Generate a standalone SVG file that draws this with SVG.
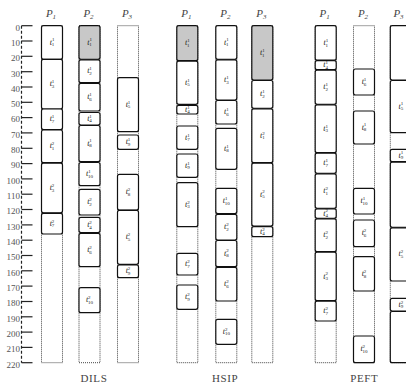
<svg xmlns="http://www.w3.org/2000/svg" width="406" height="387" viewBox="0 0 406 387">
<style>
.bg{fill:#fff}
.col{fill:none;stroke:#444;stroke-width:1;stroke-dasharray:1 1}
.tk{fill:#fff;stroke:#111;stroke-width:1.2}
.g{fill:#c8c8c8}
.tl{font-family:"Liberation Serif",serif;font-style:italic;font-size:8px;text-anchor:middle;fill:#222}
.s{font-size:5px;font-style:normal}
.hd{font-family:"Liberation Serif",serif;font-style:italic;font-size:11px;text-anchor:middle;fill:#444}
.hs{font-size:7px}
.ax{stroke:#222;stroke-width:1.2}
.axd{stroke:#222;stroke-width:1.2;stroke-dasharray:3 2}
.al{font-family:"Liberation Serif",serif;font-size:9px;text-anchor:end;fill:#555}
.bl{font-family:"Liberation Serif",serif;font-size:11px;text-anchor:middle;fill:#444;letter-spacing:0.6px}
</style>
<rect class="bg" x="0" y="0" width="406" height="387"/>
<g id="axis">
<line class="axd" x1="21.5" y1="25.7" x2="21.5" y2="362.7"/>
<g class="ax">
<line x1="21.5" y1="25.7" x2="32.5" y2="25.7"/><line x1="21.5" y1="41" x2="32.5" y2="41"/><line x1="21.5" y1="56.3" x2="32.5" y2="56.3"/><line x1="21.5" y1="71.7" x2="32.5" y2="71.7"/><line x1="21.5" y1="87" x2="32.5" y2="87"/><line x1="21.5" y1="102.3" x2="32.5" y2="102.3"/><line x1="21.5" y1="117.6" x2="32.5" y2="117.6"/><line x1="21.5" y1="132.9" x2="32.5" y2="132.9"/><line x1="21.5" y1="148.3" x2="32.5" y2="148.3"/><line x1="21.5" y1="163.6" x2="32.5" y2="163.6"/><line x1="21.5" y1="178.9" x2="32.5" y2="178.9"/><line x1="21.5" y1="194.2" x2="32.5" y2="194.2"/><line x1="21.5" y1="209.5" x2="32.5" y2="209.5"/><line x1="21.5" y1="224.9" x2="32.5" y2="224.9"/><line x1="21.5" y1="240.2" x2="32.5" y2="240.2"/><line x1="21.5" y1="255.5" x2="32.5" y2="255.5"/><line x1="21.5" y1="270.8" x2="32.5" y2="270.8"/><line x1="21.5" y1="286.1" x2="32.5" y2="286.1"/><line x1="21.5" y1="301.5" x2="32.5" y2="301.5"/><line x1="21.5" y1="316.8" x2="32.5" y2="316.8"/><line x1="21.5" y1="332.1" x2="32.5" y2="332.1"/><line x1="21.5" y1="347.4" x2="32.5" y2="347.4"/><line x1="21.5" y1="362.7" x2="32.5" y2="362.7"/>
</g>
<g class="al">
<text x="20" y="30.5">0</text><text x="20" y="45.8">10</text><text x="20" y="61.1">20</text><text x="20" y="76.5">30</text><text x="20" y="91.8">40</text><text x="20" y="107.1">50</text><text x="20" y="122.4">60</text><text x="20" y="137.7">70</text><text x="20" y="153.1">80</text><text x="20" y="168.4">90</text><text x="20" y="183.7">100</text><text x="20" y="199">110</text><text x="20" y="214.3">120</text><text x="20" y="229.7">130</text><text x="20" y="245">140</text><text x="20" y="260.3">150</text><text x="20" y="275.6">160</text><text x="20" y="290.9">170</text><text x="20" y="306.3">180</text><text x="20" y="321.6">190</text><text x="20" y="336.9">200</text><text x="20" y="352.2">210</text><text x="20" y="367.5">220</text>
</g>
</g>
<g id="headers">
<text class="hd" x="51" y="17">P<tspan class="hs" dy="2">1</tspan></text>
<text class="hd" x="88.5" y="17">P<tspan class="hs" dy="2">2</tspan></text>
<text class="hd" x="127" y="17">P<tspan class="hs" dy="2">3</tspan></text>
<text class="hd" x="186.3" y="17">P<tspan class="hs" dy="2">1</tspan></text>
<text class="hd" x="225.3" y="17">P<tspan class="hs" dy="2">2</tspan></text>
<text class="hd" x="261.3" y="17">P<tspan class="hs" dy="2">3</tspan></text>
<text class="hd" x="324.7" y="17">P<tspan class="hs" dy="2">1</tspan></text>
<text class="hd" x="363" y="17">P<tspan class="hs" dy="2">2</tspan></text>
<text class="hd" x="398.5" y="17">P<tspan class="hs" dy="2">3</tspan></text>
</g>
<g id="columns">
<rect class="col" x="41.5" y="25.7" width="21" height="337"/>
<rect class="col" x="79" y="25.7" width="21" height="337"/>
<rect class="col" x="117.5" y="25.7" width="21" height="337"/>
<rect class="col" x="176.8" y="25.7" width="21" height="337"/>
<rect class="col" x="215.8" y="25.7" width="21" height="337"/>
<rect class="col" x="251.8" y="25.7" width="21" height="337"/>
<rect class="col" x="315.2" y="25.7" width="21" height="337"/>
<rect class="col" x="353.5" y="25.7" width="21" height="337"/>
<rect class="col" x="390.3" y="25.7" width="21" height="337"/>
</g>
<g id="dils">
<g id="dils-p1-t1-1"><rect class="tk" x="41.5" y="25.7" width="21" height="33.6" rx="2"/><text class="tl" x="52" y="44.5">t<tspan class="s" dy="-3.2">1</tspan><tspan class="s" dx="-2.5" dy="4.8">1</tspan></text></g>
<g id="dils-p1-t3-1"><rect class="tk" x="41.5" y="59.3" width="21" height="49.7" rx="2"/><text class="tl" x="52" y="86.2">t<tspan class="s" dy="-3.2">1</tspan><tspan class="s" dx="-2.5" dy="4.8">3</tspan></text></g>
<g id="dils-p1-t7-1"><rect class="tk" x="41.5" y="109" width="21" height="20.5" rx="2"/><text class="tl" x="52" y="121.3">t<tspan class="s" dy="-3.2">1</tspan><tspan class="s" dx="-2.5" dy="4.8">7</tspan></text></g>
<g id="dils-p1-t1-2"><rect class="tk" x="41.5" y="130" width="21" height="32.7" rx="2"/><text class="tl" x="52" y="148.4">t<tspan class="s" dy="-3.2">2</tspan><tspan class="s" dx="-2.5" dy="4.8">1</tspan></text></g>
<g id="dils-p1-t3-2"><rect class="tk" x="41.5" y="163.2" width="21" height="49.6" rx="2"/><text class="tl" x="52" y="190">t<tspan class="s" dy="-3.2">2</tspan><tspan class="s" dx="-2.5" dy="4.8">3</tspan></text></g>
<g id="dils-p1-t7-2"><rect class="tk" x="41.5" y="213.3" width="21" height="20.7" rx="2"/><text class="tl" x="52" y="225.7">t<tspan class="s" dy="-3.2">2</tspan><tspan class="s" dx="-2.5" dy="4.8">7</tspan></text></g>

<g id="dils-p2-t1-1d"><rect class="tk g" x="79" y="25.7" width="21" height="33.6" rx="2"/><text class="tl" x="89.5" y="44.5">t<tspan class="s" dy="-3.2">1</tspan><tspan class="s" dx="-2.5" dy="4.8">1</tspan></text></g>
<g id="dils-p2-t2-1"><rect class="tk" x="79" y="59.8" width="21" height="22.9" rx="2"/><text class="tl" x="89.5" y="73.3">t<tspan class="s" dy="-3.2">1</tspan><tspan class="s" dx="-2.5" dy="4.8">2</tspan></text></g>
<g id="dils-p2-t6-1"><rect class="tk" x="79" y="83.3" width="21" height="27.7" rx="2"/><text class="tl" x="89.5" y="99.2">t<tspan class="s" dy="-3.2">1</tspan><tspan class="s" dx="-2.5" dy="4.8">6</tspan></text></g>
<g id="dils-p2-t4-1"><rect class="tk" x="79" y="112.5" width="21" height="12.5" rx="2"/><text class="tl" x="89.5" y="120.8">t<tspan class="s" dy="-3.2">1</tspan><tspan class="s" dx="-2.5" dy="4.8">4</tspan></text></g>
<g id="dils-p2-t8-1"><rect class="tk" x="79" y="125.5" width="21" height="36.2" rx="2"/><text class="tl" x="89.5" y="145.6">t<tspan class="s" dy="-3.2">1</tspan><tspan class="s" dx="-2.5" dy="4.8">8</tspan></text></g>
<g id="dils-p2-t10-1"><rect class="tk" x="79" y="162.5" width="21" height="23.2" rx="2"/><text class="tl" x="89.5" y="176.1">t<tspan class="s" dy="-3.2">1</tspan><tspan class="s" dx="-2.5" dy="4.8">10</tspan></text></g>
<g id="dils-p2-t2-2"><rect class="tk" x="79" y="189.3" width="21" height="25.7" rx="2"/><text class="tl" x="89.5" y="204.2">t<tspan class="s" dy="-3.2">2</tspan><tspan class="s" dx="-2.5" dy="4.8">2</tspan></text></g>
<g id="dils-p2-t4-2"><rect class="tk" x="79" y="217.3" width="21" height="15.2" rx="2"/><text class="tl" x="89.5" y="226.9">t<tspan class="s" dy="-3.2">2</tspan><tspan class="s" dx="-2.5" dy="4.8">4</tspan></text></g>
<g id="dils-p2-t6-2"><rect class="tk" x="79" y="233.3" width="21" height="33.4" rx="2"/><text class="tl" x="89.5" y="252">t<tspan class="s" dy="-3.2">2</tspan><tspan class="s" dx="-2.5" dy="4.8">6</tspan></text></g>
<g id="dils-p2-t10-2"><rect class="tk" x="79" y="287.7" width="21" height="25" rx="2"/><text class="tl" x="89.5" y="302.2">t<tspan class="s" dy="-3.2">2</tspan><tspan class="s" dx="-2.5" dy="4.8">10</tspan></text></g>

<g id="dils-p3-t5-1"><rect class="tk" x="117.5" y="77.7" width="21" height="54" rx="2"/><text class="tl" x="128" y="106.7">t<tspan class="s" dy="-3.2">1</tspan><tspan class="s" dx="-2.5" dy="4.8">5</tspan></text></g>
<g id="dils-p3-t9-1"><rect class="tk" x="117.5" y="135" width="21" height="14.3" rx="2"/><text class="tl" x="128" y="144.2">t<tspan class="s" dy="-3.2">1</tspan><tspan class="s" dx="-2.5" dy="4.8">9</tspan></text></g>
<g id="dils-p3-t8-2"><rect class="tk" x="117.5" y="174.3" width="21" height="35.7" rx="2"/><text class="tl" x="128" y="194.2">t<tspan class="s" dy="-3.2">2</tspan><tspan class="s" dx="-2.5" dy="4.8">8</tspan></text></g>
<g id="dils-p3-t5-2"><rect class="tk" x="117.5" y="210.3" width="21" height="54" rx="2"/><text class="tl" x="128" y="239.3">t<tspan class="s" dy="-3.2">2</tspan><tspan class="s" dx="-2.5" dy="4.8">5</tspan></text></g>
<g id="dils-p3-t9-2"><rect class="tk" x="117.5" y="265" width="21" height="12.7" rx="2"/><text class="tl" x="128" y="273.4">t<tspan class="s" dy="-3.2">2</tspan><tspan class="s" dx="-2.5" dy="4.8">9</tspan></text></g>
</g>
<g id="hsip">
<g id="hsip-p1-t1-1d"><rect class="tk g" x="176.8" y="25.7" width="21" height="35" rx="2"/><text class="tl" x="187.3" y="45.2">t<tspan class="s" dy="-3.2">1</tspan><tspan class="s" dx="-2.5" dy="4.8">1</tspan></text></g>
<g id="hsip-p1-t5-1"><rect class="tk" x="176.8" y="61.2" width="21" height="43.1" rx="2"/><text class="tl" x="187.3" y="84.8">t<tspan class="s" dy="-3.2">1</tspan><tspan class="s" dx="-2.5" dy="4.8">5</tspan></text></g>
<g id="hsip-p1-t4-1"><rect class="tk" x="176.8" y="105.3" width="21" height="8.7" rx="2"/><text class="tl" x="187.3" y="111.7">t<tspan class="s" dy="-3.2">1</tspan><tspan class="s" dx="-2.5" dy="4.8">4</tspan></text></g>
<g id="hsip-p1-t7-1"><rect class="tk" x="176.8" y="126" width="21" height="23.3" rx="2"/><text class="tl" x="187.3" y="139.7">t<tspan class="s" dy="-3.2">1</tspan><tspan class="s" dx="-2.5" dy="4.8">7</tspan></text></g>
<g id="hsip-p1-t9-1"><rect class="tk" x="176.8" y="154" width="21" height="23.3" rx="2"/><text class="tl" x="187.3" y="167.7">t<tspan class="s" dy="-3.2">1</tspan><tspan class="s" dx="-2.5" dy="4.8">9</tspan></text></g>
<g id="hsip-p1-t3-2"><rect class="tk" x="176.8" y="182.7" width="21" height="44" rx="2"/><text class="tl" x="187.3" y="206.7">t<tspan class="s" dy="-3.2">2</tspan><tspan class="s" dx="-2.5" dy="4.8">3</tspan></text></g>
<g id="hsip-p1-t7-2"><rect class="tk" x="176.8" y="253.3" width="21" height="21.7" rx="2"/><text class="tl" x="187.3" y="266.2">t<tspan class="s" dy="-3.2">2</tspan><tspan class="s" dx="-2.5" dy="4.8">7</tspan></text></g>
<g id="hsip-p1-t9-2"><rect class="tk" x="176.8" y="285" width="21" height="24.3" rx="2"/><text class="tl" x="187.3" y="299.2">t<tspan class="s" dy="-3.2">2</tspan><tspan class="s" dx="-2.5" dy="4.8">9</tspan></text></g>

<g id="hsip-p2-t1-1"><rect class="tk" x="215.8" y="25.7" width="21" height="33.6" rx="2"/><text class="tl" x="226.3" y="44.5">t<tspan class="s" dy="-3.2">1</tspan><tspan class="s" dx="-2.5" dy="4.8">1</tspan></text></g>
<g id="hsip-p2-t3-1"><rect class="tk" x="215.8" y="59.8" width="21" height="40.2" rx="2"/><text class="tl" x="226.3" y="81.9">t<tspan class="s" dy="-3.2">1</tspan><tspan class="s" dx="-2.5" dy="4.8">3</tspan></text></g>
<g id="hsip-p2-t6-1"><rect class="tk" x="215.8" y="100.5" width="21" height="23.5" rx="2"/><text class="tl" x="226.3" y="114.3">t<tspan class="s" dy="-3.2">1</tspan><tspan class="s" dx="-2.5" dy="4.8">6</tspan></text></g>
<g id="hsip-p2-t8-1"><rect class="tk" x="215.8" y="128.3" width="21" height="41" rx="2"/><text class="tl" x="226.3" y="150.8">t<tspan class="s" dy="-3.2">1</tspan><tspan class="s" dx="-2.5" dy="4.8">8</tspan></text></g>
<g id="hsip-p2-t10-1"><rect class="tk" x="215.8" y="188.3" width="21" height="25.2" rx="2"/><text class="tl" x="226.3" y="202.9">t<tspan class="s" dy="-3.2">1</tspan><tspan class="s" dx="-2.5" dy="4.8">10</tspan></text></g>
<g id="hsip-p2-t2-2"><rect class="tk" x="215.8" y="214.3" width="21" height="25.7" rx="2"/><text class="tl" x="226.3" y="229.2">t<tspan class="s" dy="-3.2">2</tspan><tspan class="s" dx="-2.5" dy="4.8">2</tspan></text></g>
<g id="hsip-p2-t8-2"><rect class="tk" x="215.8" y="240.5" width="21" height="26.2" rx="2"/><text class="tl" x="226.3" y="255.6">t<tspan class="s" dy="-3.2">2</tspan><tspan class="s" dx="-2.5" dy="4.8">8</tspan></text></g>
<g id="hsip-p2-t6-2"><rect class="tk" x="215.8" y="267.3" width="21" height="33.7" rx="2"/><text class="tl" x="226.3" y="286.2">t<tspan class="s" dy="-3.2">2</tspan><tspan class="s" dx="-2.5" dy="4.8">6</tspan></text></g>
<g id="hsip-p2-t10-2"><rect class="tk" x="215.8" y="319.3" width="21" height="25" rx="2"/><text class="tl" x="226.3" y="333.8">t<tspan class="s" dy="-3.2">2</tspan><tspan class="s" dx="-2.5" dy="4.8">10</tspan></text></g>

<g id="hsip-p3-t1-1d"><rect class="tk g" x="251.8" y="25.7" width="21" height="54.3" rx="2"/><text class="tl" x="262.3" y="54.9">t<tspan class="s" dy="-3.2">1</tspan><tspan class="s" dx="-2.5" dy="4.8">1</tspan></text></g>
<g id="hsip-p3-t2-1"><rect class="tk" x="251.8" y="80.5" width="21" height="27.8" rx="2"/><text class="tl" x="262.3" y="96.4">t<tspan class="s" dy="-3.2">1</tspan><tspan class="s" dx="-2.5" dy="4.8">2</tspan></text></g>
<g id="hsip-p3-t1-2"><rect class="tk" x="251.8" y="108.8" width="21" height="53.9" rx="2"/><text class="tl" x="262.3" y="137.8">t<tspan class="s" dy="-3.2">2</tspan><tspan class="s" dx="-2.5" dy="4.8">1</tspan></text></g>
<g id="hsip-p3-t5-2"><rect class="tk" x="251.8" y="163.2" width="21" height="62.8" rx="2"/><text class="tl" x="262.3" y="196.6">t<tspan class="s" dy="-3.2">2</tspan><tspan class="s" dx="-2.5" dy="4.8">5</tspan></text></g>
<g id="hsip-p3-t4-2"><rect class="tk" x="251.8" y="226.7" width="21" height="10" rx="2"/><text class="tl" x="262.3" y="233.7">t<tspan class="s" dy="-3.2">2</tspan><tspan class="s" dx="-2.5" dy="4.8">4</tspan></text></g>
</g>
<g id="peft">
<g id="peft-p1-t1-1"><rect class="tk" x="315.2" y="25.7" width="21" height="34.5" rx="2"/><text class="tl" x="325.7" y="45">t<tspan class="s" dy="-3.2">1</tspan><tspan class="s" dx="-2.5" dy="4.8">1</tspan></text></g>
<g id="peft-p1-t4-1"><rect class="tk" x="315.2" y="60.7" width="21" height="9" rx="2"/><text class="tl" x="325.7" y="67.2">t<tspan class="s" dy="-3.2">1</tspan><tspan class="s" dx="-2.5" dy="4.8">4</tspan></text></g>
<g id="peft-p1-t2-1"><rect class="tk" x="315.2" y="70.2" width="21" height="34.1" rx="2"/><text class="tl" x="325.7" y="89.3">t<tspan class="s" dy="-3.2">1</tspan><tspan class="s" dx="-2.5" dy="4.8">2</tspan></text></g>
<g id="peft-p1-t3-1"><rect class="tk" x="315.2" y="104.8" width="21" height="47.9" rx="2"/><text class="tl" x="325.7" y="130.8">t<tspan class="s" dy="-3.2">1</tspan><tspan class="s" dx="-2.5" dy="4.8">3</tspan></text></g>
<g id="peft-p1-t7-1"><rect class="tk" x="315.2" y="153.2" width="21" height="20.1" rx="2"/><text class="tl" x="325.7" y="165.3">t<tspan class="s" dy="-3.2">1</tspan><tspan class="s" dx="-2.5" dy="4.8">7</tspan></text></g>
<g id="peft-p1-t1-2"><rect class="tk" x="315.2" y="173.8" width="21" height="34.5" rx="2"/><text class="tl" x="325.7" y="193.1">t<tspan class="s" dy="-3.2">2</tspan><tspan class="s" dx="-2.5" dy="4.8">1</tspan></text></g>
<g id="peft-p1-t4-2"><rect class="tk" x="315.2" y="208.8" width="21" height="9.5" rx="2"/><text class="tl" x="325.7" y="215.6">t<tspan class="s" dy="-3.2">2</tspan><tspan class="s" dx="-2.5" dy="4.8">4</tspan></text></g>
<g id="peft-p1-t2-2"><rect class="tk" x="315.2" y="218.8" width="21" height="32.9" rx="2"/><text class="tl" x="325.7" y="237.3">t<tspan class="s" dy="-3.2">2</tspan><tspan class="s" dx="-2.5" dy="4.8">2</tspan></text></g>
<g id="peft-p1-t3-2"><rect class="tk" x="315.2" y="252.2" width="21" height="48.5" rx="2"/><text class="tl" x="325.7" y="278.5">t<tspan class="s" dy="-3.2">2</tspan><tspan class="s" dx="-2.5" dy="4.8">3</tspan></text></g>
<g id="peft-p1-t7-2"><rect class="tk" x="315.2" y="301.2" width="21" height="19.8" rx="2"/><text class="tl" x="325.7" y="313.1">t<tspan class="s" dy="-3.2">2</tspan><tspan class="s" dx="-2.5" dy="4.8">7</tspan></text></g>

<g id="peft-p2-t6-1"><rect class="tk" x="353.5" y="69" width="21" height="26" rx="2"/><text class="tl" x="364" y="84">t<tspan class="s" dy="-3.2">1</tspan><tspan class="s" dx="-2.5" dy="4.8">6</tspan></text></g>
<g id="peft-p2-t8-1"><rect class="tk" x="353.5" y="111" width="21" height="33" rx="2"/><text class="tl" x="364" y="129.5">t<tspan class="s" dy="-3.2">1</tspan><tspan class="s" dx="-2.5" dy="4.8">8</tspan></text></g>
<g id="peft-p2-t10-1"><rect class="tk" x="353.5" y="188.3" width="21" height="25.7" rx="2"/><text class="tl" x="364" y="203.2">t<tspan class="s" dy="-3.2">1</tspan><tspan class="s" dx="-2.5" dy="4.8">10</tspan></text></g>
<g id="peft-p2-t6-2"><rect class="tk" x="353.5" y="220" width="21" height="26.7" rx="2"/><text class="tl" x="364" y="235.4">t<tspan class="s" dy="-3.2">2</tspan><tspan class="s" dx="-2.5" dy="4.8">6</tspan></text></g>
<g id="peft-p2-t8-2"><rect class="tk" x="353.5" y="256.7" width="21" height="34.3" rx="2"/><text class="tl" x="364" y="275.9">t<tspan class="s" dy="-3.2">2</tspan><tspan class="s" dx="-2.5" dy="4.8">8</tspan></text></g>
<g id="peft-p2-t10-2"><rect class="tk" x="353.5" y="336" width="21" height="26.7" rx="2"/><text class="tl" x="364" y="351.4">t<tspan class="s" dy="-3.2">2</tspan><tspan class="s" dx="-2.5" dy="4.8">10</tspan></text></g>

<g id="peft-p3-a"><rect class="tk" x="390.3" y="25.7" width="21" height="54.3" rx="2"/></g>
<g id="peft-p3-t5-1"><rect class="tk" x="390.3" y="80.5" width="21" height="52.2" rx="2"/><text class="tl" x="400.8" y="108.6">t<tspan class="s" dy="-3.2">1</tspan><tspan class="s" dx="-2.5" dy="4.8">5</tspan></text></g>
<g id="peft-p3-t9-1"><rect class="tk" x="390.3" y="149.3" width="21" height="12.4" rx="2"/><text class="tl" x="400.8" y="157.5">t<tspan class="s" dy="-3.2">1</tspan><tspan class="s" dx="-2.5" dy="4.8">9</tspan></text></g>
<g id="peft-p3-b"><rect class="tk" x="390.3" y="162.2" width="21" height="65.1" rx="2"/></g>
<g id="peft-p3-t5-2"><rect class="tk" x="390.3" y="227.8" width="21" height="53.2" rx="2"/><text class="tl" x="400.8" y="256.4">t<tspan class="s" dy="-3.2">2</tspan><tspan class="s" dx="-2.5" dy="4.8">5</tspan></text></g>
<g id="peft-p3-t9-2"><rect class="tk" x="390.3" y="298.3" width="21" height="12.7" rx="2"/><text class="tl" x="400.8" y="306.7">t<tspan class="s" dy="-3.2">2</tspan><tspan class="s" dx="-2.5" dy="4.8">9</tspan></text></g>
<g id="peft-p3-c"><rect class="tk" x="390.3" y="311.5" width="21" height="51.2" rx="2"/></g>
</g>
<g id="labels">
<text class="bl" x="94" y="382">DILS</text>
<text class="bl" x="225" y="382">HSIP</text>
<text class="bl" x="364.3" y="382">PEFT</text>
</g>
</svg>
